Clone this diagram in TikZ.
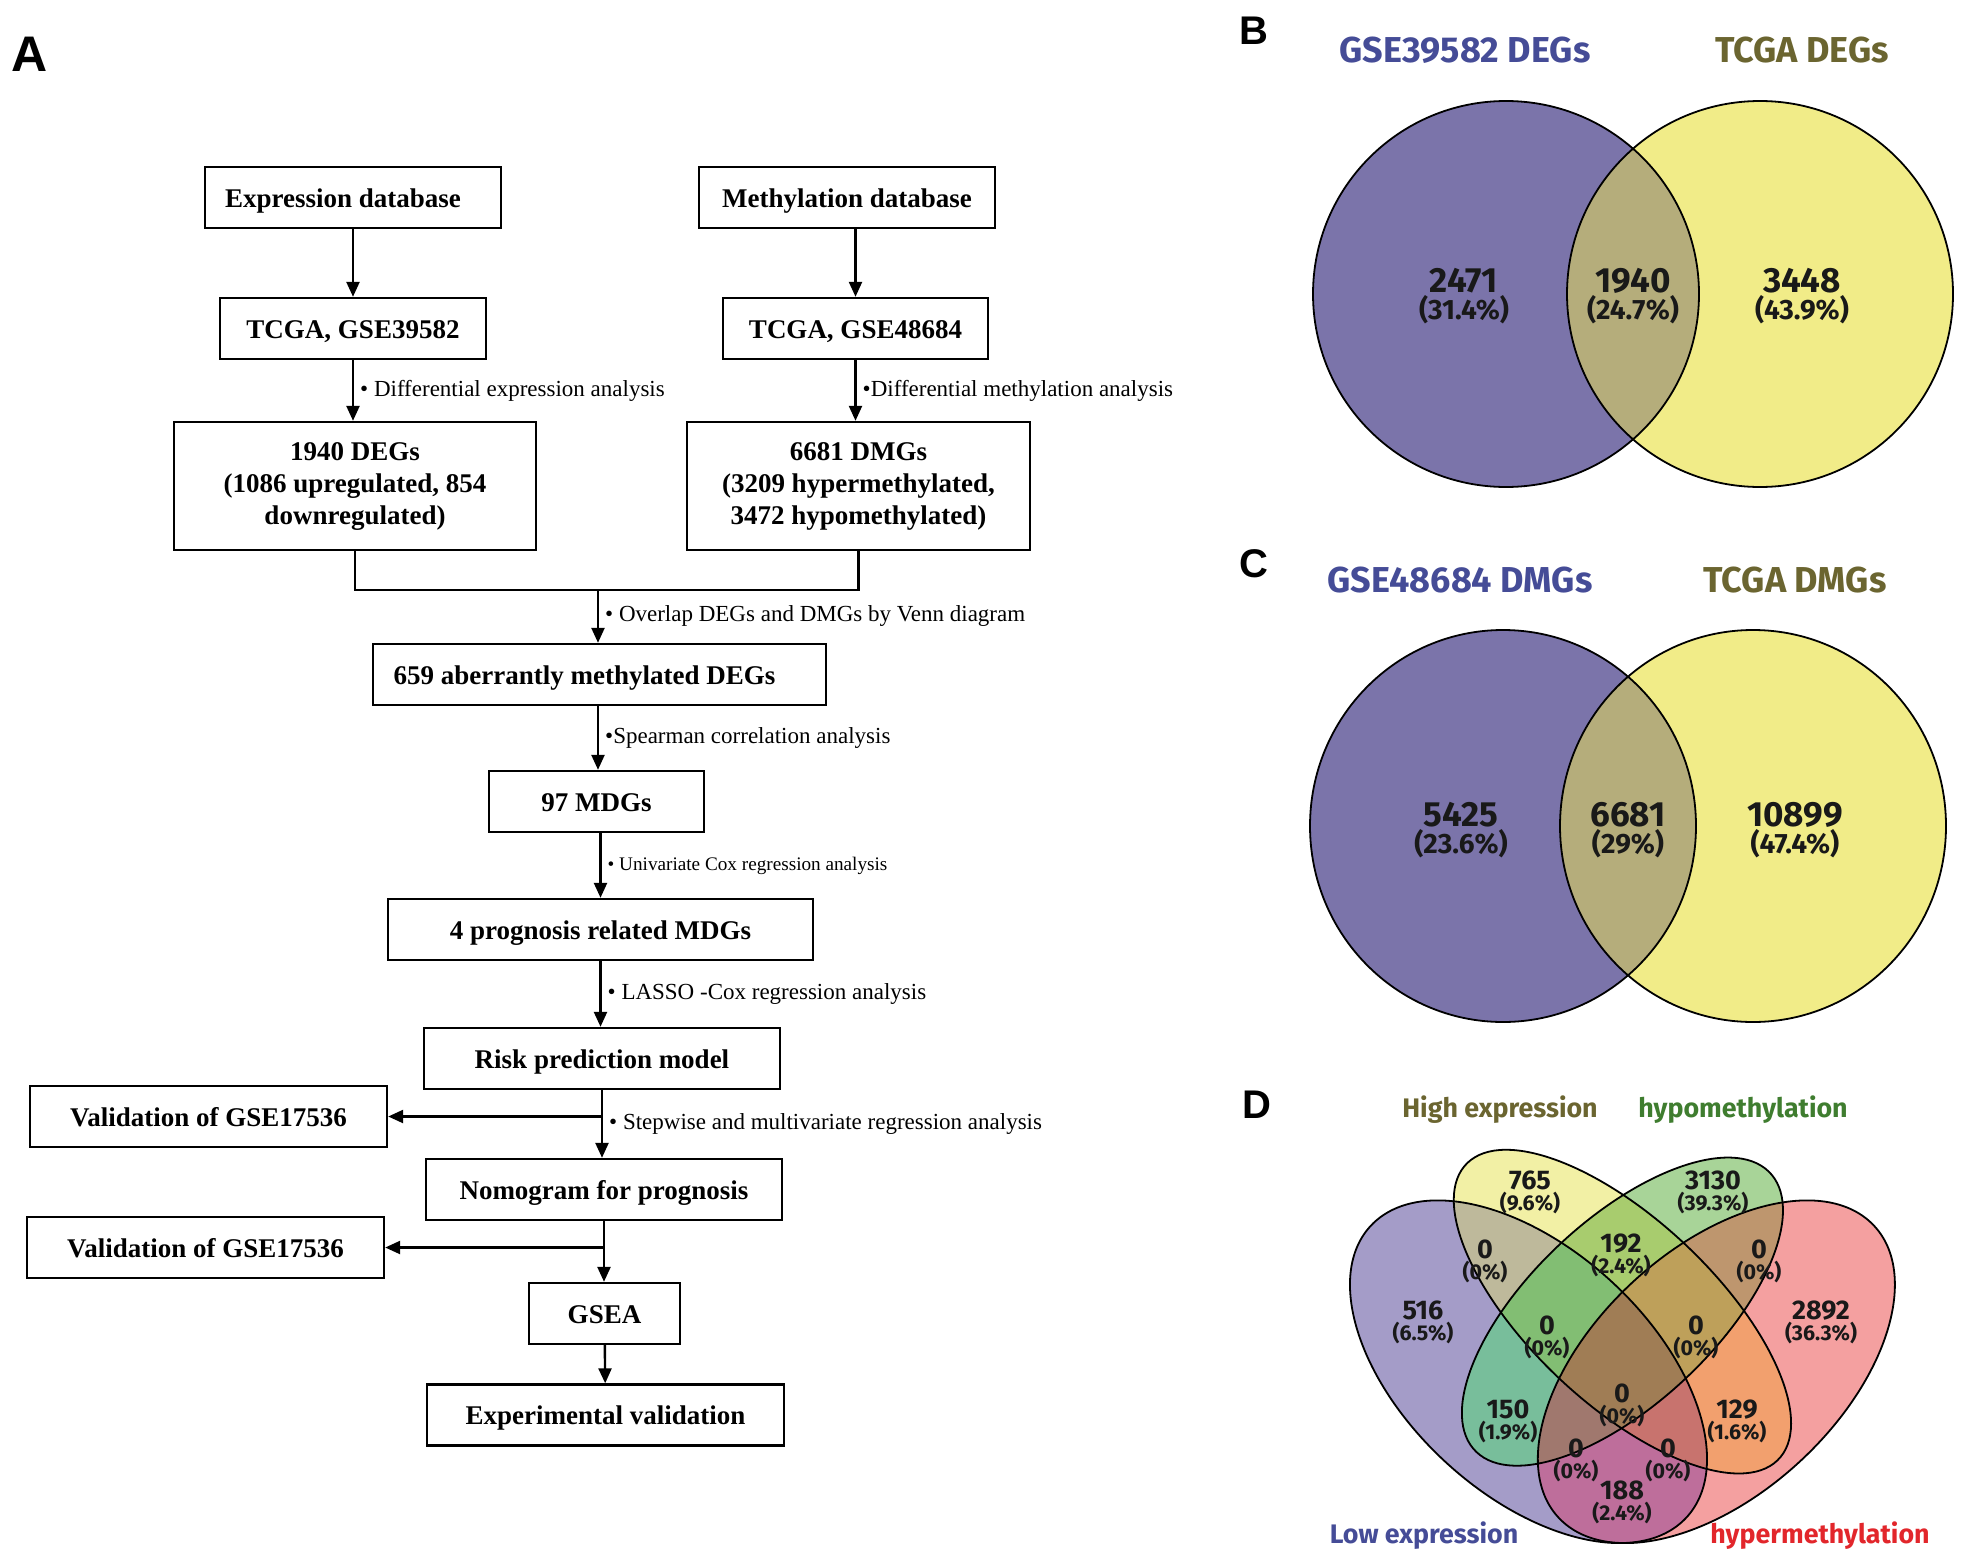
\documentclass[tikz,border=0pt]{standalone}
\usepackage{fontspec}
\setmainfont{Liberation Serif}
\newfontfamily\vennfont{Fira Sans}
\newfontfamily\panelfont{Liberation Sans}
\usetikzlibrary{arrows.meta}

% two-set venn colours
\definecolor{setblue}{HTML}{7B74AA}
\definecolor{setyellow}{HTML}{F1EC88}
\definecolor{setboth}{HTML}{B5AD7B}
\definecolor{titleblue}{HTML}{454C97}
\definecolor{titleolive}{HTML}{6B6530}
\definecolor{titlegreen}{HTML}{3F7D2F}
\definecolor{titlered}{HTML}{E2262B}
% four-set regions: L = low expr., H = high expr., O = hypo, R = hyper
\definecolor{cL}{HTML}{A49CC8}
\definecolor{cH}{HTML}{F2F0A5}
\definecolor{cO}{HTML}{A8D498}
\definecolor{cR}{HTML}{F4A0A0}
\definecolor{cLH}{HTML}{BEB99B}
\definecolor{cLO}{HTML}{78BE9B}
\definecolor{cLR}{HTML}{BE6E9B}
\definecolor{cHO}{HTML}{A8CC6E}
\definecolor{cHR}{HTML}{F2A06E}
\definecolor{cOR}{HTML}{BE966E}
\definecolor{cLHO}{HTML}{82BE73}
\definecolor{cLHR}{HTML}{C8736E}
\definecolor{cLOR}{HTML}{A0786E}
\definecolor{cHOR}{HTML}{BEA05A}
\definecolor{cLHOR}{HTML}{A07D55}

\newcommand\clipLow{\clip[rotate around={135:(0.35,0.47)}] (0.35,0.47) ellipse (0.35 and 0.20);}
\newcommand\clipHigh{\clip[rotate around={135:(0.50,0.57)}] (0.50,0.57) ellipse (0.35 and 0.15);}
\newcommand\clipHypo{\clip[rotate around={45:(0.50,0.57)}] (0.50,0.57) ellipse (0.33 and 0.15);}
\newcommand\clipHyper{\clip[rotate around={45:(0.65,0.47)}] (0.65,0.47) ellipse (0.35 and 0.20);}
\newcommand\paintregion[2]{\begin{scope}#1\fill[#2] (0,0) rectangle (1,1);\end{scope}}
\newcommand\vpct{\fontsize{14}{11.7}\selectfont}
\newcommand\dpct{\fontsize{10.7}{8.7}\selectfont}

\begin{document}
\begin{tikzpicture}[
    x=0.5pt, y=-0.5pt,
    box/.style={rectangle, draw, line width=1.2pt, align=center, inner sep=0pt,
        font=\fontsize{13.5}{16}\selectfont\bfseries, minimum height=30.5pt},
    block/.style={box, text height=9.5pt, text depth=0pt},
    note/.style={right, inner sep=3pt, font=\fontsize{11.5}{13}\selectfont},
    arrow/.style={-{Triangle[length=7.5pt, width=6.5pt]}, line width=1.2pt},
    panel/.style={inner sep=0pt, font=\panelfont\bfseries\fontsize{20}{20}\selectfont},
    vline/.style={line width=0.9pt},
    vtitle/.style={inner sep=0pt, font=\vennfont\bfseries\fontsize{18}{19}\selectfont},
    dtitle/.style={inner sep=0pt, font=\vennfont\bfseries\fontsize{13.4}{14}\selectfont},
    vcount/.style={inner sep=0pt, align=center, text=black!90, font=\vennfont\bfseries\fontsize{17.5}{11.7}\selectfont},
    dcount/.style={inner sep=0pt, align=center, text=black!90, font=\vennfont\bfseries\fontsize{13.5}{8.7}\selectfont},
]

\path[use as bounding box, fill=white] (0,0) rectangle (1965,1558);

% ========== A: WORKFLOW ==========
\node[panel, font=\panelfont\bfseries\fontsize{25}{25}\selectfont] (panel_a) at (29.5,54) {A};

% data sources
\node[block, minimum width=148pt] (expr_db) at (353,197.5) {Expression database\hspace*{10pt}};
\node[block, minimum width=148pt] (meth_db) at (847,197.5) {Methylation database};
\node[block, minimum width=133pt] (expr_data) at (353,328.5) {TCGA, GSE39582};
\node[block, minimum width=132.5pt] (meth_data) at (855.5,328.5) {TCGA, GSE48684};

\draw[arrow] (expr_db) -- (expr_data);
\draw[arrow] (meth_db.south -| meth_data) -- (meth_data);

% differential genes
\node[box, minimum width=181pt, minimum height=64pt] (degs) at (355,486) {1940 DEGs\\(1086 upregulated, 854\\downregulated)};
\node[box, minimum width=171.5pt, minimum height=64pt] (dmgs) at (858.5,486) {6681 DMGs\\(3209 hypermethylated,\\3472 hypomethylated)};

\draw[arrow] (expr_data.south) -- node[note, midway] {• Differential expression analysis} (expr_data.south |- degs.north);
\draw[arrow] (meth_data.south) -- node[note, midway] {•Differential methylation analysis} (meth_data.south |- dmgs.north);

% screening
\node[block, minimum width=226.5pt] (overlap) at (599.5,674.5) {659 aberrantly methylated DEGs\hspace*{15pt}};
\node[block, minimum width=107.5pt] (mdgs) at (596.5,801.5) {97 MDGs};
\node[block, minimum width=212.5pt] (prognosis) at (600.5,929.5) {4 prognosis related MDGs};
\node[block, minimum width=178pt] (risk) at (602,1058.5) {Risk prediction model};

\coordinate (join) at (598,590);
\draw[line width=1.2pt] (degs.south) |- (join) -| (dmgs.south);
\draw[arrow] (join) -- node[note, midway] {• Overlap DEGs and DMGs by Venn diagram} (join |- overlap.north);
\draw[arrow] (overlap.south -| join) -- node[note, midway] {•Spearman correlation analysis} (join |- mdgs.north);
\draw[arrow] (mdgs.south -| prognosis) -- node[note, midway, font=\fontsize{9.6}{11}\selectfont] {• Univariate Cox regression analysis} (prognosis.north);
\draw[arrow] (prognosis.south) -- node[note, midway] {• LASSO -Cox regression analysis} (prognosis.south |- risk.north);

% model and validation
\node[block, minimum width=178.5pt] (valid_risk) at (208.5,1116.5) {Validation of GSE17536};
\node[block, minimum width=178pt] (nomogram) at (604,1189.5) {Nomogram for prognosis};
\node[block, minimum width=178.5pt] (valid_nomo) at (205.5,1247.5) {Validation of GSE17536};
\node[block, minimum width=75.5pt] (gsea) at (604.5,1313.5) {GSEA};
\node[block, minimum width=178.5pt] (experiment) at (605.5,1415) {Experimental validation};

\draw[arrow] (risk.south) -- node[note, midway] {• Stepwise and multivariate regression analysis} (risk.south |- nomogram.north);
\draw[arrow] (risk.south |- valid_risk.east) -- (valid_risk.east);
\draw[arrow] (nomogram.south) -- (nomogram.south |- gsea.north);
\draw[arrow] (nomogram.south |- valid_nomo.east) -- (valid_nomo.east);
\draw[arrow] (gsea) -- (experiment);

% ========== B: DEG VENN ==========
\node[panel] (panel_b) at (1253.5,31) {B};
\node[vtitle, titleblue] (b_left_title) at (1465,50.5) {GSE39582 DEGs};
\node[vtitle, titleolive] (b_right_title) at (1802,50.5) {TCGA DEGs};

\fill[setblue] (1506,294) circle (96.5pt);
\fill[setyellow] (1760,294) circle (96.5pt);
\begin{scope}
  \clip (1506,294) circle (96.5pt);
  \fill[setboth] (1760,294) circle (96.5pt);
\end{scope}
\draw[vline] (1506,294) circle (96.5pt) (1760,294) circle (96.5pt);

\node[vcount] (b_left) at (1464,296) {2471\\{\vpct(31.4\%)}};
\node[vcount] (b_mid) at (1633,296) {1940\\{\vpct(24.7\%)}};
\node[vcount] (b_right) at (1802,296) {3448\\{\vpct(43.9\%)}};

% ========== C: DMG VENN ==========
\node[panel] (panel_c) at (1253.5,564) {C};
\node[vtitle, titleblue] (c_left_title) at (1460,580) {GSE48684 DMGs};
\node[vtitle, titleolive] (c_right_title) at (1795,580) {TCGA DMGs};

\fill[setblue] (1503,826) ellipse (96.5pt and 98pt);
\fill[setyellow] (1753,826) ellipse (96.5pt and 98pt);
\begin{scope}
  \clip (1503,826) ellipse (96.5pt and 98pt);
  \fill[setboth] (1753,826) ellipse (96.5pt and 98pt);
\end{scope}
\draw[vline] (1503,826) ellipse (96.5pt and 98pt) (1753,826) ellipse (96.5pt and 98pt);

\node[vcount] (c_left) at (1461,830) {5425\\{\vpct(23.6\%)}};
\node[vcount] (c_mid) at (1628,830) {6681\\{\vpct(29\%)}};
\node[vcount] (c_right) at (1795,830) {10899\\{\vpct(47.4\%)}};

% ========== D: FOUR-SET VENN ==========
\node[panel] (panel_d) at (1257,1105) {D};
\node[dtitle, titleolive] (d_high_title) at (1500,1110) {High expression};
\node[dtitle, titlegreen] (d_hypo_title) at (1743,1110) {hypomethylation};
\node[dtitle, titleblue] (d_low_title) at (1424,1536) {Low expression};
\node[dtitle, titlered] (d_hyper_title) at (1820,1536) {hypermethylation};

\begin{scope}[shift={(1309.3,1654.2)}, x=300.5pt, y=300.5pt, xscale=1.042]
  \paintregion{\clipLow}{cL}
  \paintregion{\clipHigh}{cH}
  \paintregion{\clipHypo}{cO}
  \paintregion{\clipHyper}{cR}
  \paintregion{\clipLow\clipHigh}{cLH}
  \paintregion{\clipLow\clipHypo}{cLO}
  \paintregion{\clipLow\clipHyper}{cLR}
  \paintregion{\clipHigh\clipHypo}{cHO}
  \paintregion{\clipHigh\clipHyper}{cHR}
  \paintregion{\clipHypo\clipHyper}{cOR}
  \paintregion{\clipLow\clipHigh\clipHypo}{cLHO}
  \paintregion{\clipLow\clipHigh\clipHyper}{cLHR}
  \paintregion{\clipLow\clipHypo\clipHyper}{cLOR}
  \paintregion{\clipHigh\clipHypo\clipHyper}{cHOR}
  \paintregion{\clipLow\clipHigh\clipHypo\clipHyper}{cLHOR}
  \draw[vline, rotate around={135:(0.35,0.47)}] (0.35,0.47) ellipse (0.35 and 0.20);
  \draw[vline, rotate around={135:(0.50,0.57)}] (0.50,0.57) ellipse (0.35 and 0.15);
  \draw[vline, rotate around={45:(0.50,0.57)}] (0.50,0.57) ellipse (0.33 and 0.15);
  \draw[vline, rotate around={45:(0.65,0.47)}] (0.65,0.47) ellipse (0.35 and 0.20);
\end{scope}

\node[dcount] (d_low) at (1423,1322) {516\\{\dpct(6.5\%)}};
\node[dcount] (d_high) at (1530,1192) {765\\{\dpct(9.6\%)}};
\node[dcount] (d_hypo) at (1713,1192) {3130\\{\dpct(39.3\%)}};
\node[dcount] (d_hyper) at (1821,1322) {2892\\{\dpct(36.3\%)}};
\node[dcount] (d_lh) at (1485,1261) {0\\{\dpct(0\%)}};
\node[dcount] (d_ho) at (1621,1255) {192\\{\dpct(2.4\%)}};
\node[dcount] (d_or) at (1759,1261) {0\\{\dpct(0\%)}};
\node[dcount] (d_lho) at (1547,1337) {0\\{\dpct(0\%)}};
\node[dcount] (d_hor) at (1696,1337) {0\\{\dpct(0\%)}};
\node[dcount] (d_lo) at (1508,1421) {150\\{\dpct(1.9\%)}};
\node[dcount] (d_all) at (1622,1405) {0\\{\dpct(0\%)}};
\node[dcount] (d_hr) at (1737,1421) {129\\{\dpct(1.6\%)}};
\node[dcount] (d_lor) at (1576,1460) {0\\{\dpct(0\%)}};
\node[dcount] (d_lhr) at (1668,1460) {0\\{\dpct(0\%)}};
\node[dcount] (d_lr) at (1622,1502) {188\\{\dpct(2.4\%)}};

\end{tikzpicture}
\end{document}
